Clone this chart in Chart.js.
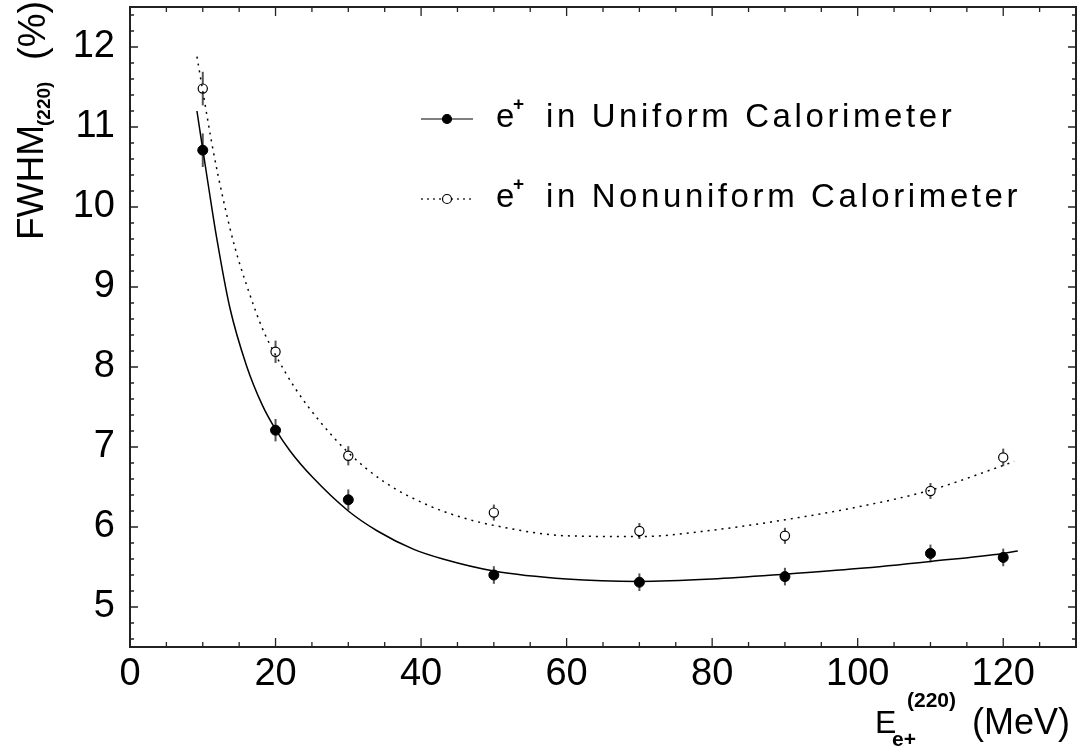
<!DOCTYPE html>
<html>
<head>
<meta charset="utf-8">
<title>FWHM vs positron energy</title>
<script src="https://cdn.jsdelivr.net/npm/chart.js@4.4.1/dist/chart.umd.min.js"></script>
<style>
  html, body { margin: 0; padding: 0; background: #fff; }
  #wrap { width: 1082px; height: 754px; }
</style>
</head>
<body>
<div id="wrap"><canvas id="fwhmChart" width="1082" height="754"></canvas></div>
<script>
// ===== Data =====
const energies = [10, 20, 30, 50, 70, 90, 110, 120];
const uniformFwhm = [10.71, 7.21, 6.34, 5.40, 5.31, 5.38, 5.67, 5.62];
const uniformErr = [0.21, 0.14, 0.13, 0.11, 0.11, 0.11, 0.11, 0.11];
const nonuniformFwhm = [11.48, 8.19, 6.89, 6.18, 5.95, 5.89, 6.45, 6.87];
const nonuniformErr = [0.21, 0.14, 0.12, 0.10, 0.10, 0.10, 0.10, 0.11];

// fitted curves
const uniformFitE = [9.2, 10, 10.8, 11.9, 13.7, 16, 18.2, 20, 22, 25, 30, 34, 39, 43, 50, 60, 70, 80, 90, 100, 110, 120, 122];
const uniformFitVal = [11.2, 10.72, 10.25, 9.62, 8.75, 8.02, 7.52, 7.22, 6.95, 6.63, 6.2, 5.95, 5.72, 5.6, 5.45, 5.35, 5.32, 5.35, 5.41, 5.48, 5.57, 5.67, 5.70];
const nonuniformFitE = [9.2, 10, 11.4, 12.8, 14.4, 16, 18.2, 20, 22.8, 26, 30, 35, 41, 45.6, 50, 60, 70, 80, 90, 100, 110, 120, 121.5];
const nonuniformFitVal = [11.88, 11.45, 10.72, 10.1, 9.5, 9.03, 8.48, 8.15, 7.72, 7.33, 6.93, 6.56, 6.27, 6.12, 6.02, 5.89, 5.88, 5.96, 6.09, 6.25, 6.46, 6.77, 6.82];

const xTickLabels = [0, 20, 40, 60, 80, 100, 120];
const yTickLabels = [5, 6, 7, 8, 9, 10, 11, 12];
const legendLabels = ["in Uniform Calorimeter", "in Nonuniform Calorimeter"];

const FONT = "'Liberation Sans', Arial, sans-serif";

const toPts = (xs, ys) => xs.map((x, i) => ({ x: x, y: ys[i] }));

// draws text pieces (main / sub / sup) one after the other
function drawPieces(ctx, pieces) {
  pieces.forEach((p) => {
    ctx.font = (p.weight || 400) + " " + p.size + "px " + FONT;
    ctx.fillText(p.text, p.x, p.y);
  });
}

// ===== error bars =====
const errorBars = {
  id: "errorBars",
  beforeDatasetsDraw(chart) {
    const { ctx, scales: { x, y } } = chart;
    const sets = [
      [uniformFwhm, uniformErr],
      [nonuniformFwhm, nonuniformErr],
    ];
    ctx.save();
    ctx.strokeStyle = "#555";
    ctx.lineWidth = 2;
    sets.forEach(([vals, errs]) => {
      energies.forEach((e, i) => {
        const px = x.getPixelForValue(e);
        ctx.beginPath();
        ctx.moveTo(px, y.getPixelForValue(vals[i] - errs[i]));
        ctx.lineTo(px, y.getPixelForValue(vals[i] + errs[i]));
        ctx.stroke();
      });
    });
    ctx.restore();
  },
};

// ===== frame, inside ticks, titles, legend =====
const frameAndText = {
  id: "frameAndText",
  afterDraw(chart) {
    const { ctx, chartArea: a, scales: { x, y } } = chart;
    ctx.save();
    ctx.strokeStyle = "#222";
    ctx.lineWidth = 2;
    ctx.strokeRect(a.left, a.top, a.right - a.left, a.bottom - a.top);

    ctx.lineWidth = 1.3;
    ctx.beginPath();
    for (let v = 0; v <= 130; v += 5) {
      const px = x.getPixelForValue(v);
      const len = v % 20 === 0 ? 9 : 5;
      ctx.moveTo(px, a.bottom); ctx.lineTo(px, a.bottom - len);
      ctx.moveTo(px, a.top); ctx.lineTo(px, a.top + len);
    }
    for (let k = 23; k <= 62; k++) {
      const v = k / 5;
      const py = y.getPixelForValue(v);
      const len = k % 5 === 0 ? 8 : 4;
      ctx.moveTo(a.left, py); ctx.lineTo(a.left + len, py);
      ctx.moveTo(a.right, py); ctx.lineTo(a.right - len, py);
    }
    ctx.stroke();

    ctx.fillStyle = "#000";
    ctx.textBaseline = "alphabetic";
    ctx.textAlign = "left";

    // x title: E_{e+}^{(220)} (MeV)
    drawPieces(ctx, [
      { text: "E", size: 32, x: 875, y: 733 },
      { text: "e+", size: 21, weight: 700, x: 892, y: 746 },
      { text: "(220)", size: 21, weight: 700, x: 907, y: 707 },
      { text: "(MeV)", size: 36, x: 972, y: 734 },
    ]);

    // y title: FWHM_(220) (%)
    ctx.save();
    ctx.translate(43, 240);
    ctx.rotate(-Math.PI / 2);
    drawPieces(ctx, [
      { text: "FWHM", size: 37, x: 0, y: 0 },
      { text: "(220)", size: 19, weight: 700, x: 114, y: 7 },
      { text: "(%)", size: 38, x: 180, y: 2 },
    ]);
    ctx.restore();

    // legend
    const rows = [
      { y: 119, base: 127, dash: [], fill: "#000" },
      { y: 199, base: 207, dash: [2, 4], fill: "#fff" },
    ];
    rows.forEach((r, i) => {
      ctx.save();
      ctx.strokeStyle = i === 0 ? "#555" : "#333";
      ctx.lineWidth = 1.5;
      ctx.setLineDash(r.dash);
      ctx.beginPath();
      ctx.moveTo(421, r.y);
      ctx.lineTo(473, r.y);
      ctx.stroke();
      ctx.setLineDash([]);
      ctx.beginPath();
      ctx.arc(447, r.y, 4.5, 0, Math.PI * 2);
      ctx.fillStyle = r.fill;
      ctx.fill();
      ctx.strokeStyle = "#000";
      ctx.lineWidth = 1.2;
      ctx.stroke();
      ctx.restore();

      ctx.fillStyle = "#000";
      ctx.font = "400 33px " + FONT;
      ctx.fillText("e", 496, r.base);
      ctx.font = "700 19px " + FONT;
      ctx.fillText("+", 513, r.base - 17);
      ctx.font = "400 33px " + FONT;
      ctx.letterSpacing = "3.6px";
      ctx.fillText(legendLabels[i], 546, r.base);
      ctx.letterSpacing = "0px";
    });
    ctx.restore();
  },
};

const ctxFwhm = document.getElementById("fwhmChart");
new Chart(ctxFwhm, {
  type: "scatter",
  data: {
    datasets: [
      {
        label: "Uniform fit",
        data: toPts(uniformFitE, uniformFitVal),
        showLine: true,
        borderColor: "#000",
        borderWidth: 1.5,
        pointRadius: 0,
        cubicInterpolationMode: "monotone",
      },
      {
        label: "Nonuniform fit",
        data: toPts(nonuniformFitE, nonuniformFitVal),
        showLine: true,
        borderColor: "#000",
        borderWidth: 1.5,
        borderDash: [2, 5],
        pointRadius: 0,
        cubicInterpolationMode: "monotone",
      },
      {
        label: "e+ in Uniform Calorimeter",
        data: toPts(energies, uniformFwhm),
        pointRadius: 5,
        pointBackgroundColor: "#000",
        pointBorderColor: "#000",
        pointBorderWidth: 1,
      },
      {
        label: "e+ in Nonuniform Calorimeter",
        data: toPts(energies, nonuniformFwhm),
        pointRadius: 4.6,
        pointBackgroundColor: "#fff",
        pointBorderColor: "#000",
        pointBorderWidth: 1.2,
      },
    ],
  },
  options: {
    responsive: false,
    animation: false,
    layout: { padding: { top: 7, right: 2, left: 0, bottom: 0 } },
    plugins: {
      legend: { display: false },
      tooltip: { enabled: false },
    },
    scales: {
      x: {
        type: "linear",
        min: 0,
        max: 130,
        grid: { display: false, drawTicks: false },
        border: { display: false },
        ticks: {
          padding: 5,
          color: "#000",
          maxRotation: 0,
          autoSkip: false,
          font: { family: FONT, size: 38 },
        },
        afterBuildTicks(scale) {
          scale.ticks = xTickLabels.map((v) => ({ value: v }));
        },
        afterFit(scale) {
          scale.height = 107;
          scale.paddingLeft = 0;
          scale.paddingRight = 0;
        },
      },
      y: {
        type: "linear",
        min: 4.5,
        max: 12.5,
        grid: { display: false, drawTicks: false },
        border: { display: false },
        ticks: {
          padding: 15,
          color: "#000",
          autoSkip: false,
          font: { family: FONT, size: 38 },
        },
        afterBuildTicks(scale) {
          scale.ticks = yTickLabels.map((v) => ({ value: v }));
        },
        afterFit(scale) {
          scale.width = 130;
          scale.paddingTop = 0;
          scale.paddingBottom = 0;
        },
      },
    },
  },
  plugins: [errorBars, frameAndText],
});
</script>
</body>
</html>
